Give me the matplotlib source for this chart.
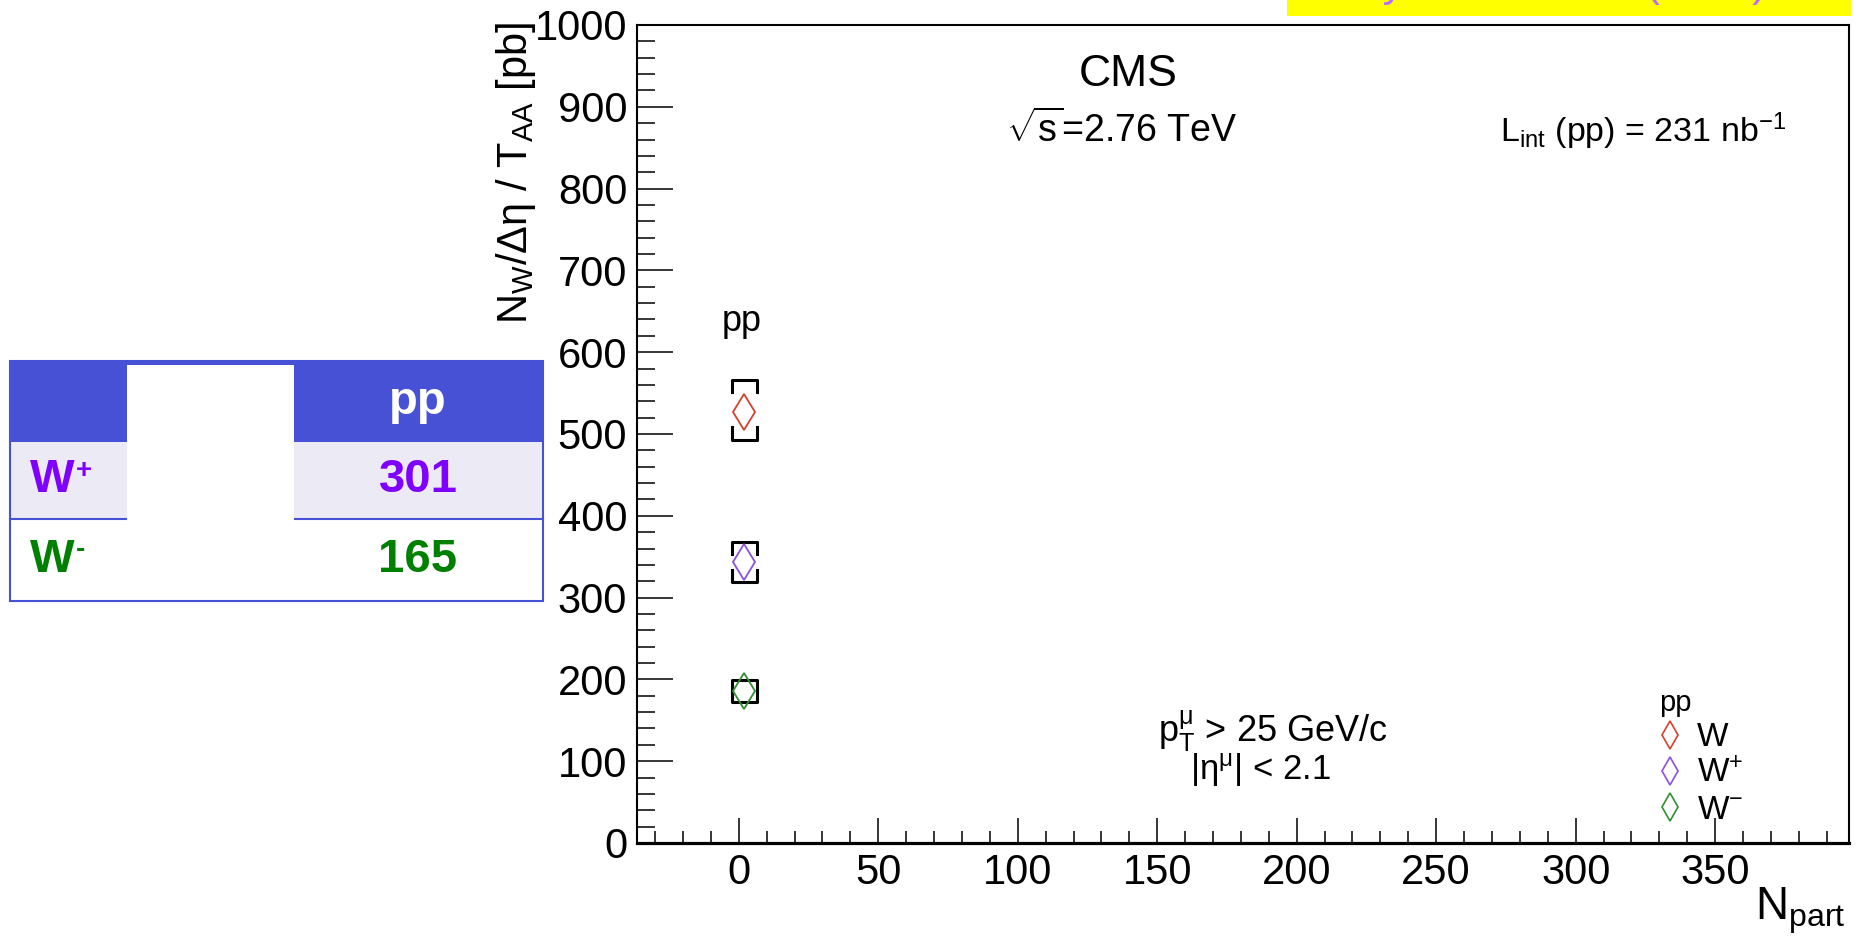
import matplotlib
matplotlib.use('Agg')
import matplotlib.pyplot as plt
from matplotlib import font_manager
from matplotlib.patches import Rectangle
from matplotlib.lines import Line2D
from matplotlib.ticker import MultipleLocator

# values
labels = ['W', 'W$^{+}$', 'W$^{-}$']
npart = [2, 2, 2]
yields = [527, 343, 186]
syst_lo = [493, 319, 172]
syst_hi = [566, 368, 199]
colors = ['#d8402c', '#8a50e0', '#2f8f2f']

# little table on the left of the slide
table_head = 'pp'
table_rows = ['W', 'W']
table_sups = ['+', '-']
table_vals = ['301', '165']
table_colors = ['#8000ff', '#008000']

W, H = 1858, 939
names = {f.name for f in font_manager.fontManager.ttflist}
narrow = 'Liberation Sans Narrow' if 'Liberation Sans Narrow' in names else None

plt.rcParams['font.family'] = ['Liberation Sans', 'DejaVu Sans']
plt.rcParams['mathtext.fontset'] = 'custom'
plt.rcParams['mathtext.rm'] = 'Liberation Sans'
plt.rcParams['mathtext.it'] = 'Liberation Sans'
plt.rcParams['mathtext.bf'] = 'Liberation Sans:bold'

fig = plt.figure(figsize=(W / 100, H / 100), dpi=100)

# slide decorations in pixel coordinates
deco = fig.add_axes([0, 0, 1, 1])
deco.set_xlim(0, W)
deco.set_ylim(H, 0)
deco.axis('off')

blue = '#4651d6'
deco.add_patch(Rectangle((1287, 0), 564, 16, color='#ffff00', lw=0))
deco.text(1330, -4, 'W yields in data (2011)', color='#b86cff', fontsize=31,
          va='baseline', ha='left')

tx0, tx1 = 10, 543
ty = [361, 442, 519, 601]
deco.add_patch(Rectangle((tx0, ty[0]), tx1 - tx0, ty[1] - ty[0], color=blue, lw=0))
deco.add_patch(Rectangle((tx0, ty[1]), tx1 - tx0, ty[2] - ty[1], color='#ecebf5', lw=0))
deco.add_patch(Rectangle((tx0, ty[0]), tx1 - tx0, ty[3] - ty[0], fill=False, ec=blue, lw=1.5))
deco.plot([tx0, tx1], [ty[2], ty[2]], color=blue, lw=1.5)
deco.add_patch(Rectangle((127, 365), 167, 158, color='white', lw=0, zorder=5))
deco.text(418, (ty[0] + ty[1]) / 2, table_head, color='white', fontsize=34,
          fontweight='bold', ha='center', va='center')
for i in range(len(table_rows)):
    yc = (ty[i + 1] + ty[i + 2]) / 2
    deco.text(30, yc, table_rows[i], color=table_colors[i], fontsize=34,
              fontweight='bold', ha='left', va='center')
    deco.text(76, yc - 10, table_sups[i], color=table_colors[i], fontsize=20,
              fontweight='bold', ha='left', va='center')
    deco.text(418, yc, table_vals[i], color=table_colors[i], fontsize=34,
              fontweight='bold', ha='center', va='center')

# the ROOT-style plot
ax = fig.add_axes([637 / W, (H - 843) / H, 1212 / W, 818 / H])
ax.set_xlim(-36.5, 398)
ax.set_ylim(0, 1000)
ax.xaxis.set_major_locator(MultipleLocator(50))
ax.xaxis.set_minor_locator(MultipleLocator(10))
ax.yaxis.set_major_locator(MultipleLocator(100))
ax.yaxis.set_minor_locator(MultipleLocator(20))
ax.tick_params(axis='both', which='both', direction='in', top=False, right=False,
               width=1.1, color='black')
ax.tick_params(axis='x', which='major', length=18, pad=7)
ax.tick_params(axis='x', which='minor', length=8.5)
ax.tick_params(axis='y', which='major', length=26, pad=7)
ax.tick_params(axis='y', which='minor', length=13)
for lab in ax.get_xticklabels() + ax.get_yticklabels():
    if narrow:
        lab.set_fontfamily(narrow)
        lab.set_fontsize(35)
    else:
        lab.set_fontsize(30)
for s in ['top', 'right', 'left']:
    ax.spines[s].set_linewidth(1.5)
ax.spines['bottom'].set_linewidth(2.3)

w, leg = 4.5, 15
for i in range(len(yields)):
    x = npart[i]
    ax.plot([x - w, x - w, x + w, x + w],
            [syst_hi[i] - leg, syst_hi[i], syst_hi[i], syst_hi[i] - leg],
            color='black', lw=2.2, solid_joinstyle='round', zorder=3)
    ax.plot([x - w, x - w, x + w, x + w],
            [syst_lo[i] + leg, syst_lo[i], syst_lo[i], syst_lo[i] + leg],
            color='black', lw=2.2, solid_joinstyle='round', zorder=3)
    ax.plot([x], [yields[i]], ls='none', marker='d', ms=18, mfc='none',
            mec=colors[i], mew=1.3, zorder=4)

handles = [Line2D([], [], ls='none', marker='d', ms=14, mfc='none', mec=c, mew=1.2)
           for c in colors]
lg = ax.legend(handles, labels, title='pp', loc='upper left',
               bbox_to_anchor=(0.843, 0.188), frameon=False, fontsize=24,
               title_fontsize=21, labelspacing=0.15, handlelength=0.7,
               handletextpad=0.45, borderpad=0, borderaxespad=0, alignment='left')

ax.text(0.405, 0.939, 'CMS', transform=ax.transAxes, fontsize=32,
        ha='center', va='center')
ax.text(0.40, 0.872, r'$\mathregular{\sqrt{s}}$=2.76 TeV', transform=ax.transAxes,
        fontsize=27, ha='center', va='center')
ax.text(0.712, 0.857, r'L$_{\mathregular{int}}$ (pp) = 231 nb$^{\mathregular{-1}}$',
        transform=ax.transAxes, fontsize=24.5, ha='left', va='baseline')
ax.text(0.525, 0.137, r'p$_{\mathregular{T}}^{\mathregular{\mu}}$ > 25 GeV/c',
        transform=ax.transAxes, fontsize=26, ha='center', va='center')
ax.text(0.514, 0.089, r'|$\mathregular{\eta^{\mu}}$| < 2.1', transform=ax.transAxes,
        fontsize=25, ha='center', va='center')
ax.text(0.0866, 0.637, 'pp', transform=ax.transAxes, fontsize=26,
        ha='center', va='center')

fig.text(516 / W, 1 - 22 / H,
         r'$\mathregular{N_{W}/\Delta\eta\ /\ T_{AA}\ [pb]}$',
         rotation=90, ha='center', va='top', fontsize=30)
fig.text(1846 / W, 1 - 886 / H, r'$\mathregular{N_{part}}$',
         ha='right', va='top', fontsize=33)

fig.savefig('out.png', dpi=100)
